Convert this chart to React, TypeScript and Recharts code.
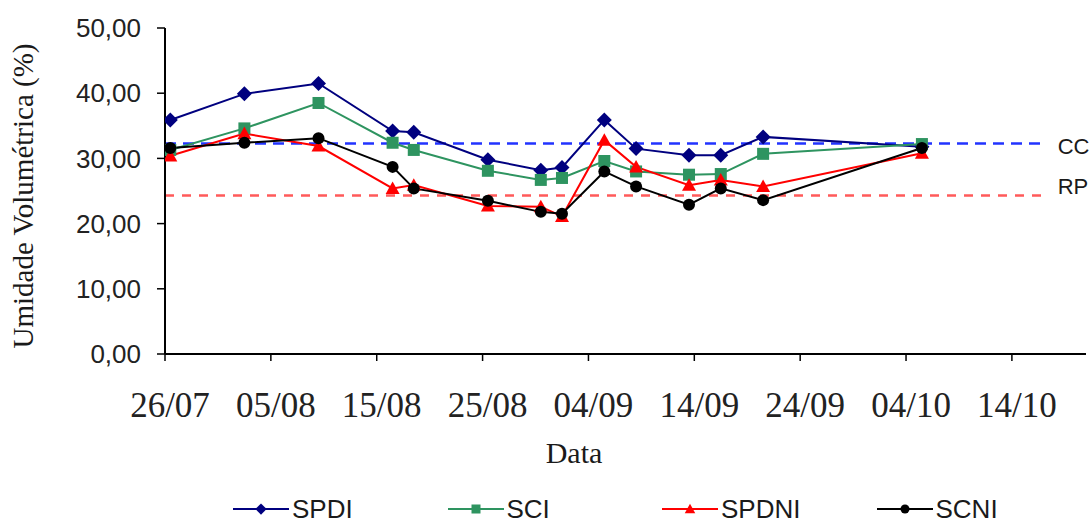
import React from "react";
import { LineChart, Line, XAxis, YAxis, ReferenceLine, Legend } from "recharts";

// sampling dates (dd/mm) and soil moisture per treatment (%)
const dates = ["26/07", "02/08", "09/08", "16/08", "18/08", "25/08", "30/08", "01/09", "05/09", "08/09", "13/09", "16/09", "20/09", "05/10"];
const spdi = [35.9, 39.9, 41.5, 34.2, 34.0, 29.8, 28.2, 28.6, 35.9, 31.5, 30.5, 30.5, 33.3, 31.8];
const sci = [31.3, 34.6, 38.5, 32.4, 31.3, 28.1, 26.7, 27.0, 29.6, 28.0, 27.5, 27.6, 30.7, 32.2];
const spdni = [30.4, 33.8, 31.9, 25.4, 25.9, 22.7, 22.6, 21.1, 32.8, 28.7, 25.9, 26.7, 25.7, 30.8];
const scni = [31.6, 32.4, 33.1, 28.7, 25.4, 23.5, 21.8, 21.5, 28.0, 25.7, 22.9, 25.4, 23.6, 31.6];

const startDate = "26/07";
const tickDays = [0, 10, 20, 30, 40, 50, 60, 70, 80];
const axisEndDay = 87;
const yTicks = [0, 10, 20, 30, 40, 50];

// capacidade de campo / reposição
const ccValue = 32.3;
const rpValue = 24.3;
const refEndDay = 83;

const YEAR = 2010;
const DAY = 86400000;
const toTime = (d: string) => {
  const [dd, mm] = d.split("/").map(Number);
  return Date.UTC(YEAR, mm - 1, dd);
};
const pad = (n: number) => String(n).padStart(2, "0");
const dayOf = (d: string) => Math.round((toTime(d) - toTime(startDate)) / DAY);
const fmtDay = (n: number) => {
  const t = new Date(toTime(startDate) + n * DAY);
  return pad(t.getUTCDate()) + "/" + pad(t.getUTCMonth() + 1);
};

// excel puts each date in the middle of its day slot
const rows = dates.map((d, i) => ({
  x: dayOf(d) + 0.5,
  SPDI: spdi[i],
  SCI: sci[i],
  SPDNI: spdni[i],
  SCNI: scni[i],
}));

type Shape = "diamond" | "square" | "triangle" | "circle";

const series: { key: string; color: string; shape: Shape }[] = [
  { key: "SPDI", color: "#00007f", shape: "diamond" },
  { key: "SCI", color: "#2e9460", shape: "square" },
  { key: "SPDNI", color: "#ff0000", shape: "triangle" },
  { key: "SCNI", color: "#000000", shape: "circle" },
];

function Marker({ cx, cy, shape, color, s = 1 }: { cx: number; cy: number; shape: Shape; color: string; s?: number }) {
  if (cx == null || cy == null) return null;
  if (shape === "diamond") {
    const h = 7.5 * s;
    return <polygon points={`${cx},${cy - h} ${cx + h},${cy} ${cx},${cy + h} ${cx - h},${cy}`} fill={color} />;
  }
  if (shape === "square") {
    const h = 6 * s;
    return <rect x={cx - h} y={cy - h} width={h * 2} height={h * 2} fill={color} />;
  }
  if (shape === "triangle") {
    const h = 7 * s;
    return <polygon points={`${cx},${cy - h} ${cx + h},${cy + h * 0.8} ${cx - h},${cy + h * 0.8}`} fill={color} />;
  }
  return <circle cx={cx} cy={cy} r={6 * s} fill={color} />;
}

const yFmt = (v: number) => v.toFixed(2).replace(".", ",");

function LegendBox() {
  return (
    <div style={{ display: "flex", paddingLeft: 233, fontFamily: "'Liberation Sans', Arial, sans-serif", fontSize: 26, color: "#1a1a1a" }}>
      {series.map((s) => (
        <div key={s.key} style={{ width: 218, display: "flex", alignItems: "center" }}>
          <svg width={56} height={20}>
            <line x1={0} y1={10} x2={56} y2={10} stroke={s.color} strokeWidth={2} />
            <Marker cx={28} cy={10} shape={s.shape} color={s.color} s={0.75} />
          </svg>
          <span style={{ marginLeft: 3, lineHeight: "30px" }}>{s.key}</span>
        </div>
      ))}
    </div>
  );
}

const refLabel = (text: string, dy: number) => (props: any) => {
  const vb = props.viewBox || {};
  return (
    <text
      x={vb.x + vb.width + 14}
      y={vb.y + dy}
      dominantBaseline="central"
      fontFamily="'Liberation Sans', Arial, sans-serif"
      fontSize={22}
      fill="#1a1a1a"
    >
      {text}
    </text>
  );
};

export default function App() {
  return (
    <div style={{ position: "absolute", left: 0, top: 0, width: 1091, height: 528, background: "#fff" }}>
      <LineChart width={1091} height={528} data={rows} margin={{ top: 28, right: 5, bottom: 0, left: 0 }}>
        <XAxis
          dataKey="x"
          type="number"
          domain={[0, axisEndDay]}
          ticks={tickDays}
          tickFormatter={fmtDay}
          interval={0}
          allowDataOverflow
          height={174}
          axisLine={{ stroke: "#000", strokeWidth: 2 }}
          tickLine={{ stroke: "#000", strokeWidth: 1.5 }}
          tickSize={7}
          tickMargin={31}
          tick={{ fontSize: 35, fontFamily: "'Liberation Serif', 'Times New Roman', serif", fill: "#222", dx: 5 }}
          label={(props: any) => {
            const vb = props.viewBox;
            return (
              <text x={vb.x + 409} y={vb.y + 98} textAnchor="middle" dominantBaseline="central" fontFamily="'Liberation Serif', 'Times New Roman', serif" fontSize={30} fill="#1a1a1a">
                Data
              </text>
            );
          }}
        />
        <YAxis
          type="number"
          domain={[0, 50]}
          ticks={yTicks}
          tickFormatter={yFmt}
          interval={0}
          width={165}
          axisLine={{ stroke: "#000", strokeWidth: 2 }}
          tickLine={{ stroke: "#000", strokeWidth: 1.5 }}
          tickSize={8}
          tickMargin={16}
          tick={{ fontSize: 26, fontFamily: "'Liberation Sans', Arial, sans-serif", fill: "#222" }}
          label={(props: any) => {
            const vb = props.viewBox;
            const cx = vb.x + 23;
            const cy = vb.y + vb.height / 2 + 5;
            return (
              <text x={cx} y={cy} textAnchor="middle" dominantBaseline="central" transform={`rotate(-90 ${cx} ${cy})`} fontFamily="'Liberation Serif', 'Times New Roman', serif" fontSize={29} fill="#1a1a1a">
                Umidade Volumétrica (%)
              </text>
            );
          }}
        />
        <ReferenceLine
          segment={[{ x: 0, y: ccValue }, { x: refEndDay, y: ccValue }]}
          stroke="#2233ff"
          strokeWidth={2.5}
          strokeDasharray="11 7"
          label={refLabel("CC", 3)}
        />
        <ReferenceLine
          segment={[{ x: 0, y: rpValue }, { x: refEndDay, y: rpValue }]}
          stroke="#ff5a5a"
          strokeWidth={2.5}
          strokeDasharray="9 8"
          label={refLabel("RP", -9)}
        />
        {series.map((s) => (
          <Line
            key={s.key}
            dataKey={s.key}
            stroke={s.color}
            strokeWidth={2}
            type="linear"
            isAnimationActive={false}
            dot={(p: any) => <Marker key={`${s.key}-${p.index}`} cx={p.cx} cy={p.cy} shape={s.shape} color={s.color} />}
            activeDot={false}
          />
        ))}
        <Legend
          layout="horizontal"
          align="center"
          verticalAlign="middle"
          content={() => <LegendBox />}
          wrapperStyle={{ left: 0, top: 494, width: 1091 }}
        />
      </LineChart>
    </div>
  );
}
